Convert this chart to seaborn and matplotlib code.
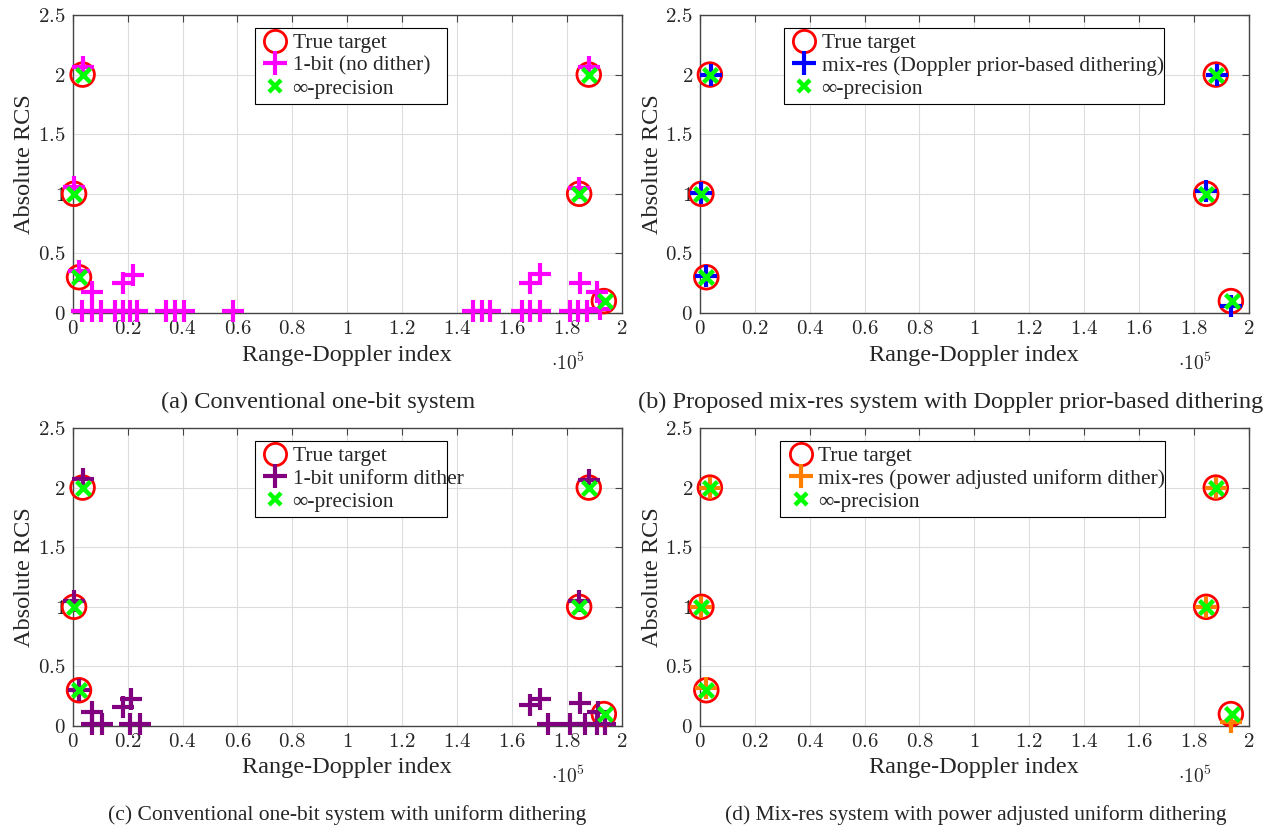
import numpy as np
import pandas as pd
import seaborn as sns
import matplotlib
matplotlib.use("Agg")
import matplotlib.pyplot as plt
from matplotlib.ticker import FuncFormatter, MultipleLocator
from matplotlib.lines import Line2D

sns.set_theme(style="white")
plt.rcParams['font.family'] = ['Liberation Serif', 'DejaVu Serif']
plt.rcParams['mathtext.fontset'] = 'cm'

# ---------------- data (x = range-Doppler index, y = absolute RCS) ----------------
target_x = [500, 2300, 3600, 184500, 188000, 193500]
target_y = [1.0, 0.3, 2.0, 1.0, 2.0, 0.1]

inf_x = [500, 2300, 3600, 184500, 188000, 193800]
inf_y = [1.0, 0.3, 2.0, 1.0, 2.0, 0.1]

# (a) 1-bit, no dither
a_x = [500, 2300, 3600, 184500, 188000,
       7100, 18400, 21800,
       3300, 6900, 10300, 15400, 18400, 20900, 23300, 34000, 37300, 40600, 58300,
       145900, 149000, 152000, 163600, 166600, 170200, 181200, 184200, 187200, 192000,
       166600, 170200, 184900, 190900]
a_y = [1.06, 0.35, 2.06, 1.05, 2.06,
       0.18, 0.25, 0.32,
       0.02, 0.02, 0.02, 0.02, 0.02, 0.02, 0.02, 0.02, 0.02, 0.02, 0.02,
       0.02, 0.02, 0.02, 0.02, 0.02, 0.02, 0.02, 0.02, 0.02, 0.03,
       0.25, 0.33, 0.25, 0.18]

# (b) mix-res, Doppler prior-based dithering
b_x = [500, 2300, 4000, 184500, 188500, 193500]
b_y = [1.01, 0.31, 2.0, 1.02, 2.0, 0.06]

# (c) 1-bit uniform dither
c_x = [500, 2300, 3600, 184500, 188000,
       7100, 7100, 10600, 21200, 18400, 20900, 24500,
       170200, 166600, 173300, 181200, 186600, 190900, 193900, 184900, 191500]
c_y = [1.05, 0.30, 2.07, 1.05, 2.06,
       0.12, 0.02, 0.02, 0.23, 0.16, 0.02, 0.02,
       0.23, 0.18, 0.02, 0.02, 0.02, 0.02, 0.02, 0.19, 0.12]

# (d) mix-res, power adjusted uniform dither
d_x = [500, 2300, 3600, 184500, 188000, 193500]
d_y = [1.0, 0.32, 2.0, 1.0, 2.0, 0.035]

panels = [
    dict(est_x=a_x, est_y=a_y, color="#ff00ff", label="1-bit (no dither)",
         caption="(a) Conventional one-bit system"),
    dict(est_x=b_x, est_y=b_y, color="#0000ff", label="mix-res (Doppler prior-based dithering)",
         caption="(b) Proposed mix-res system with Doppler prior-based dithering"),
    dict(est_x=c_x, est_y=c_y, color="#800080", label="1-bit uniform dither",
         caption="(c) Conventional one-bit system with uniform dithering"),
    dict(est_x=d_x, est_y=d_y, color="#ff8000", label="mix-res (power adjusted uniform dither)",
         caption="(d) Mix-res system with power adjusted uniform dithering"),
]

W, H = 1268, 827
fig = plt.figure(figsize=(W / 100, H / 100), dpi=100)

# axes boxes in pixels: left, top, right, bottom
boxes = [(72.7, 15, 621.7, 313), (700, 15, 1248.7, 313),
         (72.7, 428, 621.7, 726), (700, 428, 1248.7, 726)]
# legend boxes in axes fraction: x0, width ; caption centres in pixels, size
leg_boxes = [(0.332, 0.350), (0.153, 0.693), (0.332, 0.350), (0.146, 0.702)]
cap_pos = [(318.5, 402, 17.6), (950.5, 402, 17.6), (347.5, 815, 15.5), (975.5, 815, 15.5)]

fmt = FuncFormatter(lambda v, p: "$%s$" % ("%g" % round(v, 3)))
SCALE = 1e5

for box, lb, cp, pn in zip(boxes, leg_boxes, cap_pos, panels):
    l, t, r, b = box
    ax = fig.add_axes([l / W, 1 - b / H, (r - l) / W, (b - t) / H])
    tdf = pd.DataFrame({"x": np.array(target_x) / SCALE, "y": target_y})
    edf = pd.DataFrame({"x": np.array(pn["est_x"]) / SCALE, "y": pn["est_y"]})
    idf = pd.DataFrame({"x": np.array(inf_x) / SCALE, "y": inf_y})

    sns.scatterplot(data=tdf, x="x", y="y", ax=ax, marker="o", s=290,
                    facecolor="none", edgecolor="red", linewidth=2.0, zorder=3,
                    clip_on=False)
    sns.scatterplot(data=edf, x="x", y="y", ax=ax, marker="+", s=250,
                    color=pn["color"], linewidth=3.0, zorder=4, clip_on=False)
    sns.scatterplot(data=idf, x="x", y="y", ax=ax, marker="x", s=100,
                    color="#00ff00", linewidth=3.2, zorder=5, clip_on=False)

    ax.set_xlim(0, 2)
    ax.set_ylim(0, 2.5)
    ax.xaxis.set_major_locator(MultipleLocator(0.2))
    ax.yaxis.set_major_locator(MultipleLocator(0.5))
    ax.xaxis.set_major_formatter(fmt)
    ax.yaxis.set_major_formatter(fmt)
    ax.tick_params(direction="in", length=5, width=0.8, color="#444444",
                   top=True, right=True, labelsize=15, pad=5)
    ax.grid(True, color="#dddddd", linewidth=0.8)
    ax.set_axisbelow(True)
    for s in ax.spines.values():
        s.set_color("#444444")
        s.set_linewidth(1.0)
    ax.set_xlabel("Range-Doppler index", fontsize=17.5, labelpad=4)
    ax.set_ylabel("Absolute RCS", fontsize=17.5, labelpad=2)

    ax.text(0.902, -0.135, r"$\cdot 10^5$", transform=ax.transAxes, ha="center",
            va="top", fontsize=14)

    handles = [
        Line2D([], [], marker="o", linestyle="none", markersize=16,
               markerfacecolor="none", markeredgecolor="red", markeredgewidth=2.0),
        Line2D([], [], marker="+", linestyle="none", markersize=17,
               color=pn["color"], markeredgewidth=3.0),
        Line2D([], [], marker="x", linestyle="none", markersize=9,
               color="#00ff00", markeredgewidth=3.2),
    ]
    leg = ax.legend(handles, ["True target", pn["label"], "∞-precision"],
                    loc="upper left", bbox_to_anchor=(lb[0], 0.957, lb[1], 0.0),
                    mode="expand",
                    fontsize=15.5, frameon=True, fancybox=False,
                    edgecolor="black", framealpha=1, borderpad=0.25,
                    handletextpad=0.1, labelspacing=0.12, handlelength=1.4,
                    borderaxespad=0)
    leg.get_frame().set_linewidth(0.8)

    fig.text(cp[0] / W, 1 - cp[1] / H, pn["caption"], ha="center", va="center",
             fontsize=cp[2])

fig.savefig("out.png", dpi=100)
